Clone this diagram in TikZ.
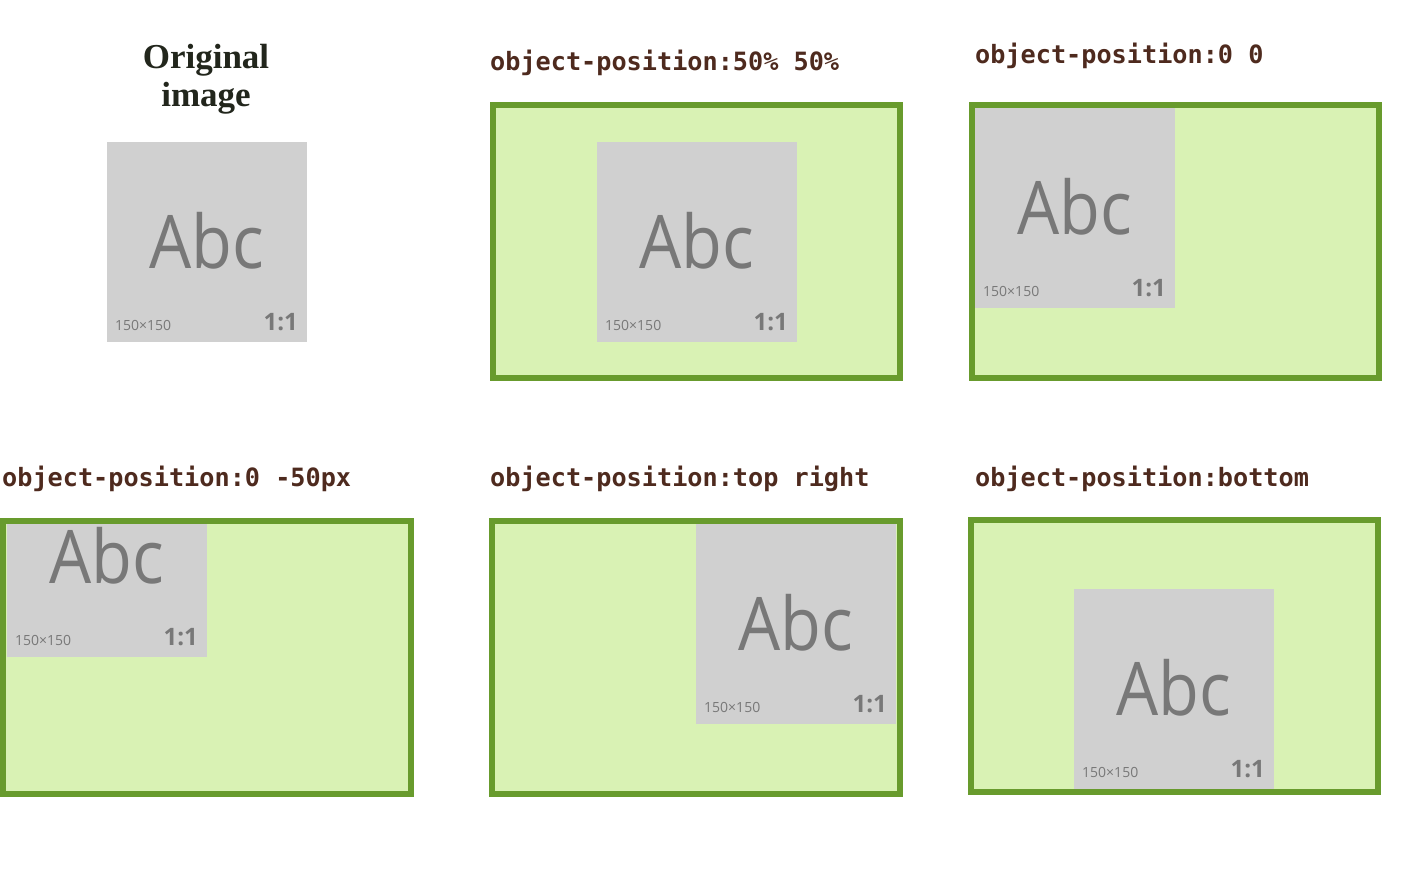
\documentclass[tikz,border=0pt]{standalone}
\usepackage{fontspec}
\setmainfont{Liberation Serif}
\newfontfamily\abcfont[FakeStretch=0.9]{Open Sans}
\newfontfamily\dimfont{Open Sans}
\newfontfamily\capfont{DejaVu Sans Mono}
\definecolor{framegreen}{RGB}{104,155,45}
\definecolor{fillgreen}{RGB}{217,242,180}
\definecolor{imggray}{RGB}{208,208,208}
\definecolor{txtgray}{RGB}{120,120,120}
\definecolor{capbrown}{RGB}{78,42,30}
\definecolor{titleblack}{RGB}{34,38,28}
\tikzset{
  frame/.style={draw=framegreen, line width=6pt, fill=fillgreen, inner sep=0pt, outer sep=0pt, anchor=north west},
  imgbox/.style={fill=imggray, minimum width=200pt, minimum height=200pt, inner sep=0pt, outer sep=0pt, anchor=north west},
  abctext/.style={font=\abcfont\fontsize{74}{74}\selectfont, text=txtgray, inner sep=0pt, anchor=base},
  dimtext/.style={font=\dimfont\fontsize{14}{14}\selectfont, text=txtgray, inner sep=0pt, anchor=base west},
  ratiotext/.style={font=\dimfont\bfseries\fontsize{24}{24}\selectfont, text=txtgray, inner sep=0pt, anchor=base east},
  captext/.style={font=\capfont\bfseries\fontsize{25.2}{25.2}\selectfont, text=capbrown, inner sep=0pt, anchor=base west},
  titletext/.style={font=\bfseries\fontsize{35}{38}\selectfont, text=titleblack, inner sep=0pt, align=center, anchor=base}
}
\newcommand\grayimage[3]{%
  \node[imgbox] (#1) at (#2,#3) {};
  \node[abctext] (#1-abc) at ([yshift=-126pt]#1.north) {Abc};
  \node[dimtext] (#1-dim) at ([xshift=8pt,yshift=-188pt]#1.north west) {150×150};
  \node[ratiotext] (#1-ratio) at ([xshift=-9pt,yshift=-188pt]#1.north east) {1:1};
}
\newcommand\panelframe[5]{% name, x1, y1, x2, y2 (outer edges)
  \node[frame, minimum width={#4-#2-6pt}, minimum height={#5-#3-6pt}] (#1) at (#2+3,#3+3) {};
}
\newcommand\clipinner[1]{%
  \clip ([shift={(3pt,-3pt)}]#1.north west) rectangle ([shift={(-3pt,3pt)}]#1.south east);
}
\begin{document}
\begin{tikzpicture}[x=1pt,y=-1pt]
\useasboundingbox (0,0) rectangle (1407,869);
% Original
\node[titletext] (title) at (206,107) {Original\\image};
\grayimage{orig}{107}{142}
% Panel 2: 50% 50%
\node[captext] (cap2) at (490,71) {object-position:50\% 50\%};
\panelframe{f2}{490}{102}{903}{381}
\begin{scope}\clipinner{f2}\grayimage{img2}{597}{142}\end{scope}
\draw[framegreen, line width=6pt] (f2.north west) rectangle (f2.south east);
% Panel 3: 0 0
\node[captext] (cap3) at (975,64) {object-position:0 0};
\panelframe{f3}{969}{102}{1382}{381}
\begin{scope}\clipinner{f3}\grayimage{img3}{975}{108}\end{scope}
\draw[framegreen, line width=6pt] (f3.north west) rectangle (f3.south east);
% Panel 4: 0 -50px
\node[captext] (cap4) at (2,486) {object-position:0 -50px};
\panelframe{f4}{0}{518}{414}{797}
\begin{scope}\clipinner{f4}\grayimage{img4}{7}{457}\end{scope}
\draw[framegreen, line width=6pt] (f4.north west) rectangle (f4.south east);
% Panel 5: top right
\node[captext] (cap5) at (490,486) {object-position:top right};
\panelframe{f5}{489}{518}{903}{797}
\begin{scope}\clipinner{f5}\grayimage{img5}{696}{524}\end{scope}
\draw[framegreen, line width=6pt] (f5.north west) rectangle (f5.south east);
% Panel 6: bottom
\node[captext] (cap6) at (975,486) {object-position:bottom};
\panelframe{f6}{968}{517}{1381}{795}
\begin{scope}\clipinner{f6}\grayimage{img6}{1074}{589}\end{scope}
\draw[framegreen, line width=6pt] (f6.north west) rectangle (f6.south east);
\end{tikzpicture}
\end{document}
